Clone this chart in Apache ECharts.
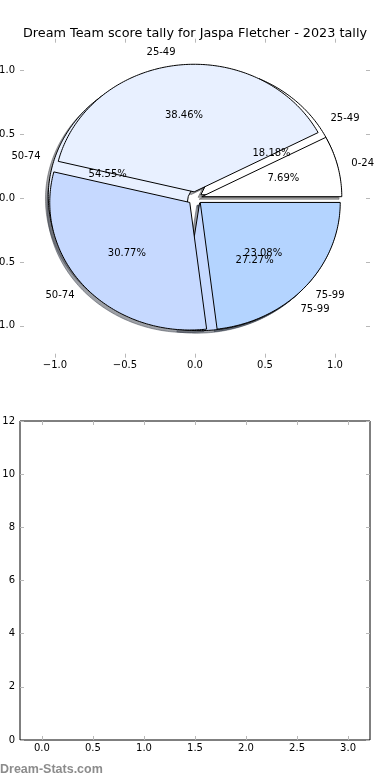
<!DOCTYPE html>
<html>
<head>
<meta charset="utf-8">
<script src="https://cdn.jsdelivr.net/npm/echarts@6/dist/echarts.min.js"></script>
<style>html,body{margin:0;padding:0;background:#fff}#c{width:390px;height:780px}</style>
</head>
<body>
<div id="c"></div>
<script>
const titleText = 'Dream Team score tally for Jaspa Fletcher - 2023 tally';
const footerText = 'Dream-Stats.com';
// Outer (top) pie
const categoriesA = ['0-24', '25-49', '50-74', '75-99'];
const valuesA = [1, 5, 4, 3];
// Underlying pie
const categoriesB = ['25-49', '50-74', '75-99'];
const valuesB = [2, 6, 3];
// tick labels
const pieTicks = [-1.0, -0.5, 0.0, 0.5, 1.0];
const barXTicks = [0, 0.5, 1, 1.5, 2, 2.5, 3];
const barYTicks = [0, 2, 4, 6, 8, 10, 12];

// styles
const colorsA = ['#ffffff', '#e8f0ff', '#c6d9ff', '#b4d4ff'];
const colorsB = ['#ffffff', '#e8f0ff', '#c6d9ff'];
const EXPLODE = 0.05;
const SHADOW = -0.02;
const FONT = 'DejaVu Sans';

function buildWedges(values, cats, colors) {
  const total = values.reduce((s, v) => s + v, 0);
  let acc = 0;
  return values.map((v, i) => {
    const t1 = acc / total * 360; acc += v; const t2 = acc / total * 360;
    return { t1, t2, color: colors[i], label: cats[i], pct: (v / total * 100).toFixed(2) + '%' };
  });
}
const wedgesA = buildWedges(valuesA, categoriesA, colorsA);
const wedgesB = buildWedges(valuesB, categoriesB, colorsB);
const allWedges = wedgesB.concat(wedgesA);

function shade(hex) {
  const n = parseInt(hex.slice(1), 16);
  const r = Math.round(((n >> 16) & 255) * 0.3), g = Math.round(((n >> 8) & 255) * 0.3), b = Math.round((n & 255) * 0.3);
  return 'rgba(' + r + ',' + g + ',' + b + ',0.5)';
}

function wedgeRender(list, isShadow) {
  return function (params, api) {
    const w = list[params.dataIndex];
    const t1 = api.value(0), t2 = api.value(1);
    const mid = (t1 + t2) / 2 * Math.PI / 180;
    let cx = EXPLODE * Math.cos(mid), cy = EXPLODE * Math.sin(mid);
    if (isShadow) { cx += SHADOW; cy += SHADOW; }
    const pts = [api.coord([cx, cy])];
    const n = Math.max(4, Math.ceil((t2 - t1) / 1));
    for (let k = 0; k <= n; k++) {
      const a = (t1 + (t2 - t1) * k / n) * Math.PI / 180;
      pts.push(api.coord([cx + Math.cos(a), cy + Math.sin(a)]));
    }
    if (isShadow) {
      const c = shade(w.color);
      return { type: 'polygon', shape: { points: pts }, style: { fill: c, stroke: c, lineWidth: 1 } };
    }
    return { type: 'polygon', shape: { points: pts }, style: { fill: w.color, stroke: '#000', lineWidth: 1, lineJoin: 'miter' } };
  };
}

function labelRender(list) {
  return function (params, api) {
    const w = list[params.dataIndex];
    const t1 = api.value(0), t2 = api.value(1);
    const mid = (t1 + t2) / 2 * Math.PI / 180;
    const c = Math.cos(mid), s = Math.sin(mid);
    const lp = api.coord([(1.1 + EXPLODE) * c, (1.1 + EXPLODE) * s]);
    const pp = api.coord([(0.6 + EXPLODE) * c, (0.6 + EXPLODE) * s]);
    const al = (1.1 * c) > 0 ? 'left' : 'right';
    return {
      type: 'group',
      children: [
        { type: 'text', x: lp[0], y: lp[1], style: { text: w.label, font: '10px "' + FONT + '"', fill: '#000', align: al, verticalAlign: 'middle', textAlign: al, textVerticalAlign: 'middle' } },
        { type: 'text', x: pp[0], y: pp[1], style: { text: w.pct, font: '10px "' + FONT + '"', fill: '#000', align: 'center', verticalAlign: 'middle', textAlign: 'center', textVerticalAlign: 'middle' } }
      ]
    };
  };
}

const tickStyle = { show: true, inside: true, length: 4, lineStyle: { color: '#b8b8b8', width: 1 } };
const labStyle = { color: '#000', fontSize: 10, fontFamily: FONT };
const fmt1 = v => v.toFixed(1).replace('-', '\u2212');

function xAx(grid, pos, min, max, ticks, showLabel, formatter) {
  return {
    type: 'value', gridIndex: grid, position: pos, min, max,
    axisLine: { show: false, onZero: false }, splitLine: { show: false },
    axisTick: Object.assign({}, tickStyle, { customValues: ticks }),
    axisLabel: Object.assign({}, labStyle, { show: showLabel, customValues: ticks, margin: 3, formatter })
  };
}
function yAx(grid, pos, min, max, ticks, showLabel, formatter) {
  return {
    type: 'value', gridIndex: grid, position: pos, min, max,
    axisLine: { show: false, onZero: false }, splitLine: { show: false },
    axisTick: Object.assign({}, tickStyle, { customValues: ticks }),
    axisLabel: Object.assign({}, labStyle, { show: showLabel, customValues: ticks, margin: 5, formatter })
  };
}

const chart = echarts.init(document.getElementById('c'), null, { renderer: 'canvas' });
const wedgeData = list => list.map(w => [w.t1, w.t2]);

chart.setOption({
  animation: false,
  backgroundColor: '#fff',
  title: { text: titleText, left: 'center', top: 22, textStyle: { fontFamily: FONT, fontSize: 12.8, fontWeight: 'normal', color: '#000' } },
  grid: [
    { left: 20, top: 38.7, width: 350, height: 319, show: false, containLabel: false, outerBoundsMode: 'none' },
    { left: 20, top: 421, width: 350, height: 319, show: true, borderColor: '#000', borderWidth: 1, backgroundColor: 'transparent', containLabel: false, outerBoundsMode: 'none' }
  ],
  xAxis: [
    xAx(0, 'bottom', -1.25, 1.25, pieTicks, true, fmt1),
    xAx(0, 'top', -1.25, 1.25, pieTicks, false, fmt1),
    xAx(1, 'bottom', -0.215, 3.215, barXTicks, true, fmt1),
    xAx(1, 'top', -0.215, 3.215, barXTicks, false, fmt1)
  ],
  yAxis: [
    yAx(0, 'left', -1.25, 1.25, pieTicks, true, fmt1),
    yAx(0, 'right', -1.25, 1.25, pieTicks, false, fmt1),
    yAx(1, 'left', 0, 12, barYTicks, true, v => String(v)),
    yAx(1, 'right', 0, 12, barYTicks, false, v => String(v))
  ],
  series: [
    { type: 'custom', xAxisIndex: 0, yAxisIndex: 0, z: 1, silent: true, data: wedgeData(allWedges), renderItem: wedgeRender(allWedges, true) },
    { type: 'custom', xAxisIndex: 0, yAxisIndex: 0, z: 2, silent: true, data: wedgeData(wedgesB), renderItem: wedgeRender(wedgesB, false) },
    { type: 'custom', xAxisIndex: 0, yAxisIndex: 0, z: 3, silent: true, data: wedgeData(wedgesA), renderItem: wedgeRender(wedgesA, false) },
    { type: 'custom', xAxisIndex: 0, yAxisIndex: 0, z: 4, silent: true, data: wedgeData(wedgesB), renderItem: labelRender(wedgesB) },
    { type: 'custom', xAxisIndex: 0, yAxisIndex: 0, z: 5, silent: true, data: wedgeData(wedgesA), renderItem: labelRender(wedgesA) },
    { type: 'scatter', xAxisIndex: 2, yAxisIndex: 2, data: [] }
  ],
  graphic: [
    { type: 'text', left: 0, top: 763, style: { text: footerText, font: 'bold 12.5px "Liberation Sans"', fill: '#8c8c8c' } }
  ]
});
</script>
</body>
</html>
